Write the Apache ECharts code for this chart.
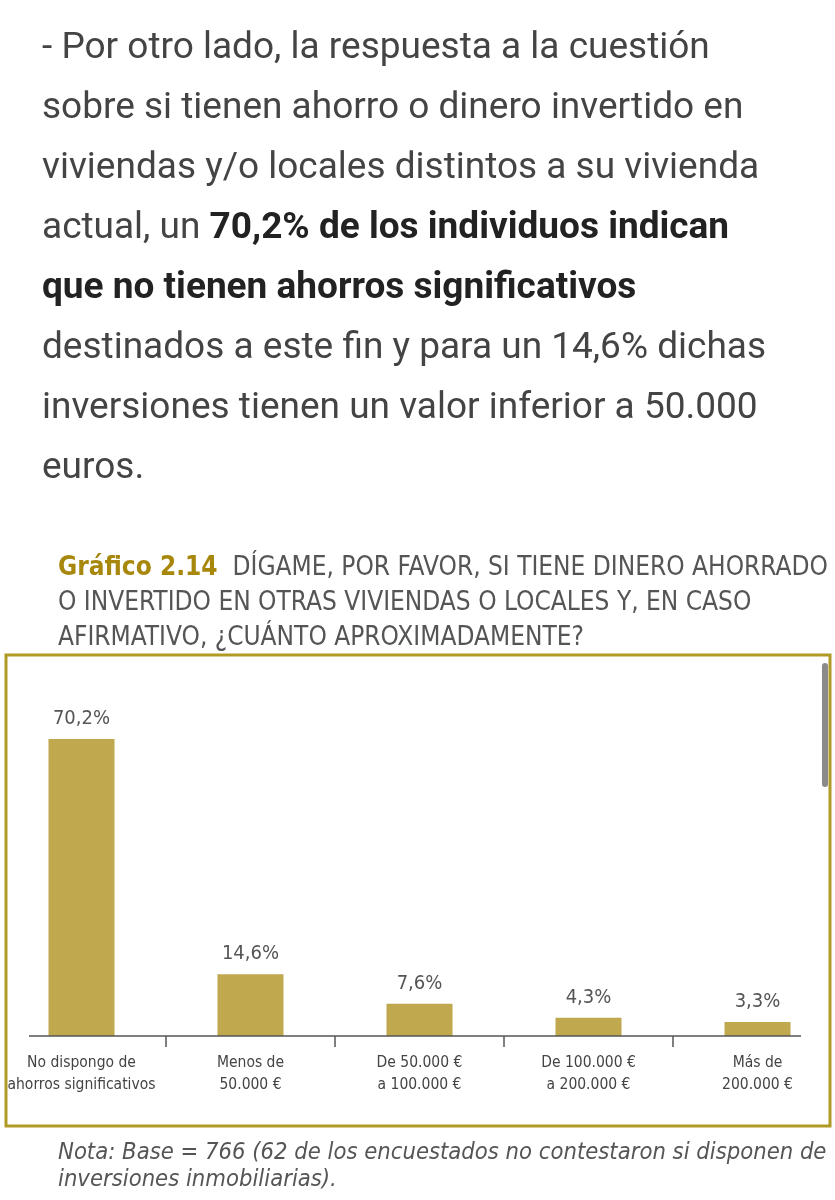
<!DOCTYPE html>
<html>
<head>
<meta charset="utf-8">
<script src="https://cdn.jsdelivr.net/npm/echarts@6/dist/echarts.min.js"></script>
<style>
html,body{margin:0;padding:0;background:#fff;}
#c{width:835px;height:1200px;}
</style>
</head>
<body>
<div id="c"></div>
<script>
const categories = [
  'No dispongo de\nahorros significativos',
  'Menos de\n50.000 €',
  'De 50.000 €\na 100.000 €',
  'De 100.000 €\na 200.000 €',
  'Más de\n200.000 €'
];
const values = [70.2, 14.6, 7.6, 4.3, 3.3];

const paragraphLines = [
  [['n', '- Por otro lado, la respuesta a la cuestión']],
  [['n', 'sobre si tienen ahorro o dinero invertido en']],
  [['n', 'viviendas y/o locales distintos a su vivienda']],
  [['n', 'actual, un '], ['b', '70,2% de los individuos indican']],
  [['b', 'que no tienen ahorros significativos']],
  [['n', 'destinados a este fin y para un 14,6% dichas']],
  [['n', 'inversiones tienen un valor inferior a 50.000']],
  [['n', 'euros.']]
];
const titleLines = [
  [['g', 'Gráfico 2.14'], ['t', '  DÍGAME, POR FAVOR, SI TIENE DINERO AHORRADO']],
  [['t', 'O INVERTIDO EN OTRAS VIVIENDAS O LOCALES Y, EN CASO']],
  [['t', 'AFIRMATIVO, ¿CUÁNTO APROXIMADAMENTE?']]
];
const noteLines = [
  'Nota: Base = 766 (62 de los encuestados no contestaron si disponen de',
  'inversiones inmobiliarias).'
];

const condensed = '"Liberation Sans Narrow", "DejaVu Sans Condensed", sans-serif';
const gold = '#c0a84e';

function richLine(parts) {
  return parts.map(p => '{' + p[0] + '|' + p[1] + '}').join('');
}

const graphics = [];
paragraphLines.forEach((ln, i) => {
  graphics.push({
    type: 'text', left: 42, top: 30 + i * 60,
    style: {
      text: richLine(ln),
      rich: {
        n: { fontFamily: 'Roboto', fontSize: 37, fill: '#444', fontWeight: 'normal' },
        b: { fontFamily: 'Roboto', fontSize: 37, fill: '#222', fontWeight: 'bold' }
      }
    }
  });
});
titleLines.forEach((ln, i) => {
  graphics.push({
    type: 'text', left: 58, top: 555 + i * 35,
    style: {
      text: richLine(ln),
      rich: {
        g: { fontFamily: condensed, fontSize: 26, fill: '#a8870d', fontWeight: 'bold' },
        t: { fontFamily: condensed, fontSize: 26, fill: '#555' }
      }
    }
  });
});
// frame
graphics.push({
  type: 'rect', shape: { x: 6, y: 655, width: 824, height: 471 },
  style: { fill: 'none', stroke: '#b09a24', lineWidth: 3 }, z: 10
});
// scrollbar
graphics.push({
  type: 'rect', shape: { x: 822, y: 663, width: 6, height: 124, r: 3 },
  style: { fill: '#8a8a8a' }, z: 11
});
// axis baseline
graphics.push({
  type: 'line', shape: { x1: 29, y1: 1036, x2: 801, y2: 1036 },
  style: { stroke: '#555', lineWidth: 1.5 }, z: 5
});
noteLines.forEach((t, i) => {
  graphics.push({
    type: 'text', left: 58, top: 1141 + i * 27,
    style: { text: t, fontFamily: condensed, fontSize: 23.6, fontStyle: 'italic', fill: '#555' }
  });
});

const chart = echarts.init(document.getElementById('c'), null, { renderer: 'canvas' });
chart.setOption({
  backgroundColor: '#fff',
  animation: false,
  grid: {
    left: -3, width: 845, top: 697.6, bottom: 164,
    containLabel: false, outerBoundsMode: 'none'
  },
  xAxis: {
    type: 'category',
    data: categories,
    axisLine: { show: false },
    axisTick: { show: true, length: 11, lineStyle: { color: '#555', width: 1.5 } },
    axisLabel: {
      interval: 0, margin: 16, fontFamily: condensed, fontSize: 15.5,
      lineHeight: 22, color: '#444'
    }
  },
  yAxis: {
    type: 'value', min: 0, max: 80, show: false, splitLine: { show: false }
  },
  series: [{
    type: 'bar',
    data: values,
    barWidth: 66,
    itemStyle: { color: gold },
    label: {
      show: true, position: 'top', distance: 10,
      fontFamily: condensed, fontSize: 20, color: '#555',
      formatter: p => String(p.value).replace('.', ',') + '%'
    }
  }],
  graphic: graphics
});
</script>
</body>
</html>
